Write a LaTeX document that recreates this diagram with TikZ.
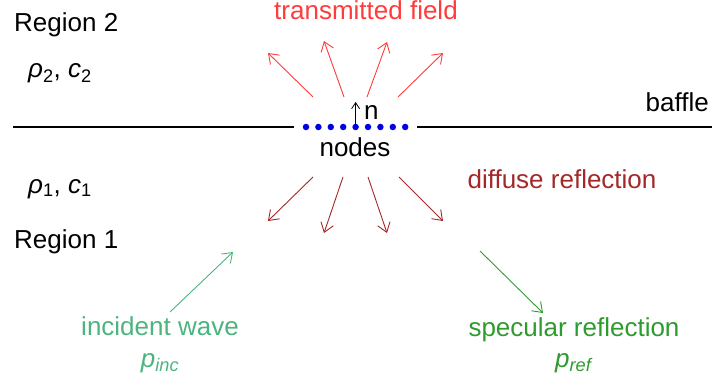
\documentclass[tikz,border=0pt]{standalone}
\usepackage{fontspec}
\setmainfont{Liberation Sans}
\definecolor{TRed}{HTML}{FF3B3B}
\definecolor{DRed}{HTML}{A32828}
\definecolor{IGreen}{HTML}{4DB37F}
\definecolor{SGreen}{HTML}{2E9B2E}
\definecolor{NBlue}{HTML}{0000E6}
\usetikzlibrary{arrows.meta}

\begin{document}
\begin{tikzpicture}[x=1pt, y=-1pt, font=\fontsize{26}{30}\selectfont,
    ray/.style={-{Straight Barb[length=9pt,width=13pt]}, line width=0.9pt},
    lbl/.style={inner sep=0pt}]
    \useasboundingbox (0,0) rectangle (712,385);
    % labels
    \node[lbl, anchor=base west] (reg2) at (14,32) {Region 2};
    \node[lbl, anchor=base west] (med2) at (28,78) {\textit{ρ}\textsubscript{2}, \textit{c}\textsubscript{2}};
    \node[lbl, anchor=base west] (med1) at (28,193) {\textit{ρ}\textsubscript{1}, \textit{c}\textsubscript{1}};
    \node[lbl, anchor=base west] (reg1) at (14,248) {Region 1};
    \node[lbl, anchor=base east] (baf) at (709,112) {baffle};
    \node[lbl, anchor=base, TRed] (trans) at (366,20) {transmitted field};
    \node[lbl, anchor=base] (nod) at (355,157) {nodes};
    \node[lbl, anchor=base, DRed] (diff) at (562,188) {diffuse reflection};
    \node[lbl, anchor=base, IGreen] (inc) at (160,335) {incident wave};
    \node[lbl, anchor=base, IGreen] (pinc) at (160,367) {\textit{p}\textsubscript{\textit{inc}}};
    \node[lbl, anchor=base, SGreen] (spec) at (574,336) {specular reflection};
    \node[lbl, anchor=base, SGreen] (pref) at (574,367) {\textit{p}\textsubscript{\textit{ref}}};
    % baffle with nodes
    \foreach \i in {0,...,8}
      \node[circle, fill=NBlue, inner sep=0pt, minimum size=6.5pt] (d\i) at (306+12.4*\i,127) {};
    \coordinate (bl) at (13,127);
    \coordinate (br) at (712,127);
    \draw[line width=2.5pt] (bl) -- ([xshift=-12pt]d0.center);
    \draw[line width=2.5pt] ([xshift=12pt]d8.center) -- (br);
    \draw[-{Straight Barb[length=6pt,width=8pt]}, line width=0.8pt] (d4.center) -- ++(0,-25);
    \node[lbl, anchor=base west] (nrm) at (364,120) {n};
    % transmitted field
    \coordinate (ts1) at (313,97);
    \coordinate (ts2) at (344,97);
    \coordinate (ts3) at (367,97);
    \coordinate (ts4) at (398,97);
    \draw[ray, TRed] (ts1) -- ++(-45,-44);
    \draw[ray, TRed] (ts2) -- ++(-20,-56);
    \draw[ray, TRed] (ts3) -- ++(20,-55);
    \draw[ray, TRed] (ts4) -- ++(45,-44);
    % diffuse reflection
    \coordinate (ds1) at (313,177);
    \coordinate (ds2) at (343,177);
    \coordinate (ds3) at (368,177);
    \coordinate (ds4) at (399,177);
    \draw[ray, DRed] (ds1) -- ++(-45,44);
    \draw[ray, DRed] (ds2) -- ++(-19,56);
    \draw[ray, DRed] (ds3) -- ++(19,56);
    \draw[ray, DRed] (ds4) -- ++(44,44);
    % incident and specular
    \coordinate (is) at (170,312);
    \coordinate (ie) at (233,252);
    \coordinate (ss) at (480,251);
    \coordinate (se) at (543,313);
    \draw[ray, IGreen] (is) -- (ie);
    \draw[ray, SGreen] (ss) -- (se);
\end{tikzpicture}
\end{document}
